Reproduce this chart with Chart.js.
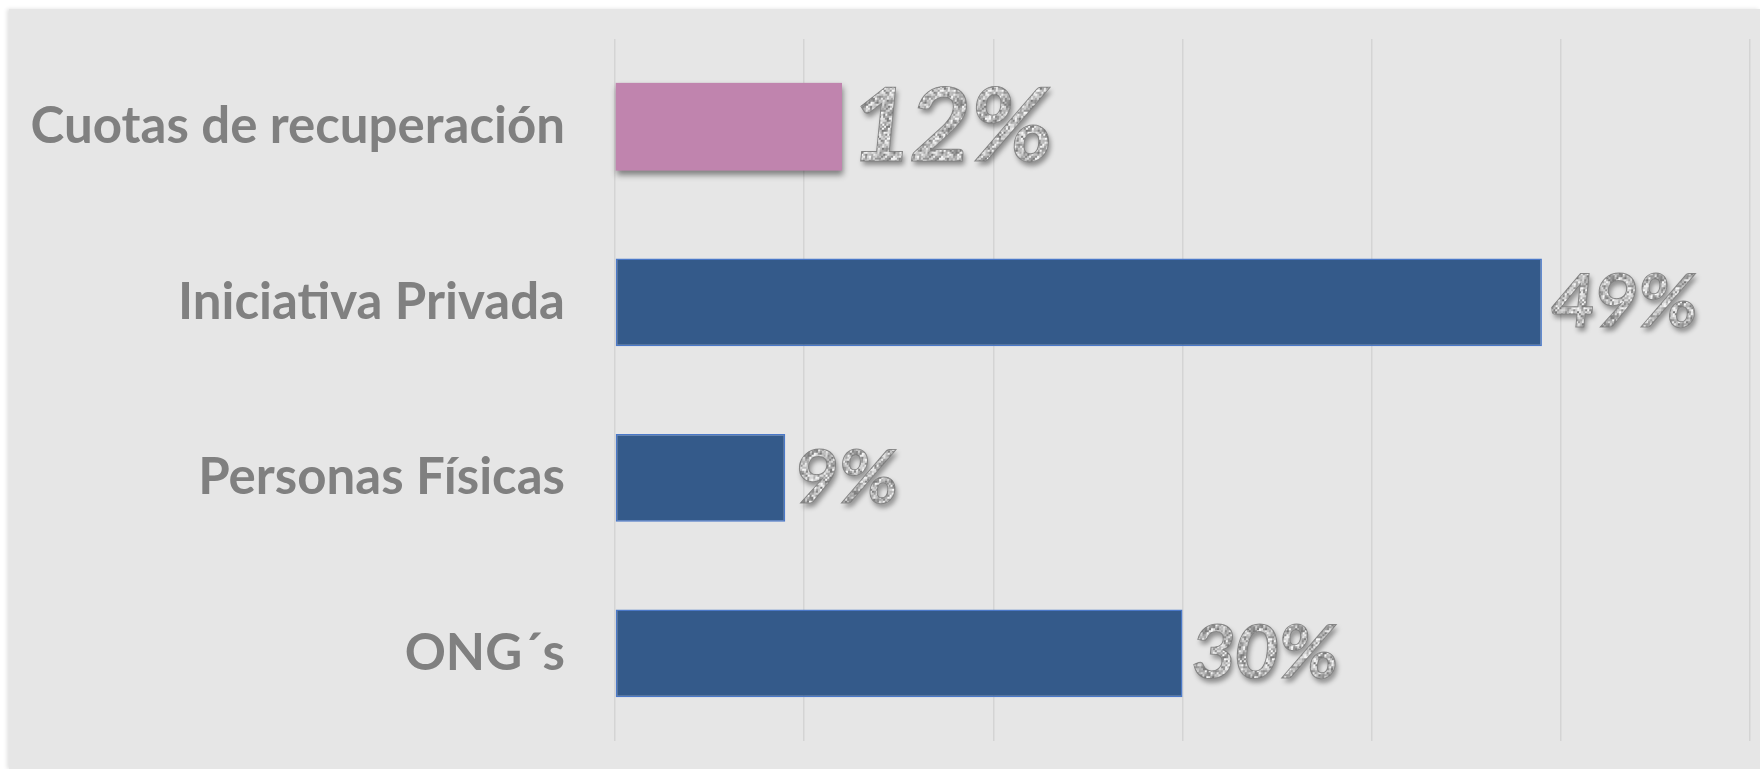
<!DOCTYPE html>
<html lang="es">
<head>
<meta charset="utf-8">
<title>Fuentes de financiamiento</title>
<script src="https://cdn.jsdelivr.net/npm/chart.js@4.4.1/dist/chart.umd.min.js"></script>
<style>
    html, body { margin: 0; padding: 0; background: #ffffff; }
    body { width: 1760px; height: 769px; overflow: hidden; position: relative; }
    #panel {
        position: absolute;
        left: 9px; top: 9px;
        width: 1751px; height: 760px;
        background: #e6e6e6;
        box-shadow: -2px 0 4px rgba(0, 0, 0, 0.12);
    }
    #chart { display: block; }
</style>
</head>
<body>
<div id="panel"><canvas id="chart" width="1751" height="760"></canvas></div>
<script>
    // Datos del gráfico (orden de arriba hacia abajo)
    const categories = ['Cuotas de recuperación', 'Iniciativa Privada', 'Personas Físicas', 'ONG´s'];
    const shares = [0.12, 0.49, 0.09, 0.30];
    const valueLabels = ['12%', '49%', '9%', '30%'];
    const xTicks = [0, 0.1, 0.2, 0.3, 0.4, 0.5, 0.6];

    // Estilos
    const barColors = ['#c084ae', '#345a8a', '#345a8a', '#345a8a'];
    const barBorders = ['rgba(0,0,0,0)', '#4a78c8', '#4a78c8', '#4a78c8'];
    const labelSizes = [102, 74, 74, 74];

    // Textura "granito" determinista para las etiquetas
    function makeGranite(ctx) {
        const c = document.createElement('canvas');
        c.width = 48; c.height = 48;
        const g = c.getContext('2d');
        for (let y = 0; y < 48; y += 2) {
            for (let x = 0; x < 48; x += 2) {
                const h = Math.sin(x * 12.9898 + y * 78.233) * 43758.5453;
                const f = h - Math.floor(h);
                const v = Math.round(120 + f * 130);
                g.fillStyle = 'rgb(' + v + ',' + v + ',' + v + ')';
                g.fillRect(x, y, 2, 2);
            }
        }
        return ctx.createPattern(c, 'repeat');
    }

    // Sombra bajo la barra rosa
    const barShadow = {
        id: 'barShadow',
        beforeDatasetsDraw(chart) {
            const ctx = chart.ctx;
            const bar = chart.getDatasetMeta(0).data[0];
            const p = bar.getProps(['x', 'y', 'base', 'height'], true);
            ctx.save();
            ctx.shadowColor = 'rgba(0,0,0,0.45)';
            ctx.shadowBlur = 6;
            ctx.shadowOffsetY = 4;
            ctx.shadowOffsetX = 1;
            ctx.fillStyle = barColors[0];
            ctx.fillRect(p.base, p.y - p.height / 2, p.x - p.base, p.height);
            ctx.restore();
        }
    };

    // Etiquetas de valor a la derecha de cada barra
    const valueText = {
        id: 'valueText',
        afterDatasetsDraw(chart) {
            const ctx = chart.ctx;
            const pattern = makeGranite(ctx);
            const meta = chart.getDatasetMeta(0);
            meta.data.forEach((bar, i) => {
                const x = bar.x + 10;
                const y = bar.y + 1;
                ctx.save();
                ctx.translate(x, y);
                ctx.transform(1, 0, -0.1, 1, 0, 0);
                ctx.font = 'bold ' + labelSizes[i] + 'px Lato, sans-serif';
                ctx.textAlign = 'left';
                ctx.textBaseline = 'middle';
                ctx.save();
                ctx.shadowColor = 'rgba(0,0,0,0.4)';
                ctx.shadowBlur = 5;
                ctx.shadowOffsetX = 2;
                ctx.shadowOffsetY = 4;
                ctx.fillStyle = '#b0b0b0';
                ctx.fillText(valueLabels[i], 0, 0);
                ctx.restore();
                ctx.fillStyle = pattern;
                ctx.fillText(valueLabels[i], 0, 0);
                ctx.lineWidth = 1;
                ctx.strokeStyle = 'rgba(120,120,120,0.8)';
                ctx.strokeText(valueLabels[i], 0, 0);
                ctx.restore();
            });
        }
    };

    new Chart(document.getElementById('chart'), {
        type: 'bar',
        data: {
            labels: categories,
            datasets: [{
                data: shares,
                backgroundColor: barColors,
                borderColor: barBorders,
                borderWidth: 1.5,
                borderSkipped: false,
                barPercentage: 0.5,
                categoryPercentage: 1.0
            }]
        },
        options: {
            indexAxis: 'y',
            responsive: false,
            animation: false,
            layout: { padding: { top: 30, right: 10, bottom: 28, left: 0 } },
            plugins: {
                legend: { display: false },
                tooltip: { enabled: false }
            },
            scales: {
                x: {
                    min: xTicks[0],
                    max: xTicks[xTicks.length - 1],
                    afterBuildTicks: (scale) => { scale.ticks = xTicks.map(v => ({ value: v })); },
                    afterFit: (scale) => { scale.height = 0; scale.paddingLeft = 0; scale.paddingRight = 0; },
                    ticks: { display: false },
                    grid: { color: '#d4d4d4', lineWidth: 1.5, drawTicks: false },
                    border: { display: false }
                },
                y: {
                    afterFit: (scale) => { scale.width = 606; scale.paddingTop = 0; scale.paddingBottom = 0; },
                    ticks: {
                        padding: 50,
                        color: '#808080',
                        font: { family: 'Lato, sans-serif', size: 51, weight: 'bold' }
                    },
                    grid: { display: false, drawTicks: false },
                    border: { display: false }
                }
            }
        },
        plugins: [barShadow, valueText]
    });
</script>
</body>
</html>
